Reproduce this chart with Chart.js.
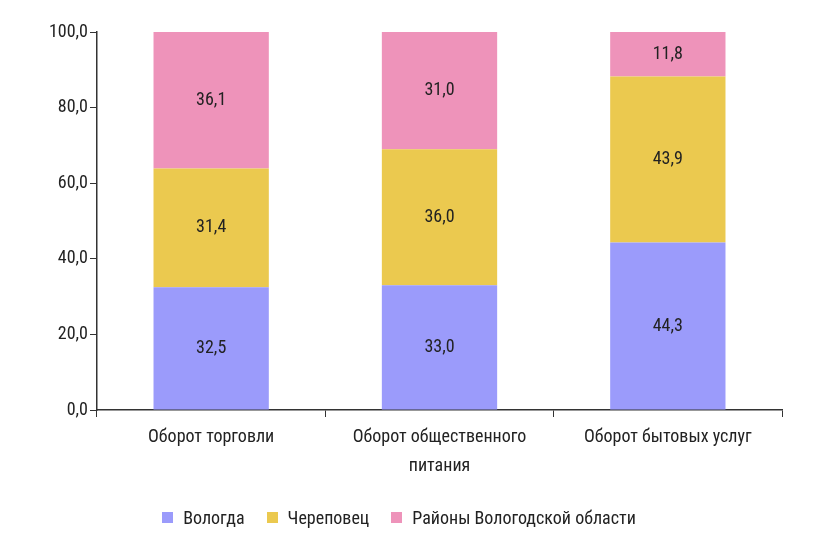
<!DOCTYPE html>
<html><head><meta charset="utf-8">
<script src="https://cdn.jsdelivr.net/npm/chart.js@4/dist/chart.umd.min.js"></script>
<style>
body{margin:0;background:#fff;}
#wrap{position:relative;width:820px;height:550px;}
#legend{position:absolute;top:507px;left:0;width:820px;text-align:center;font-family:"Liberation Sans Narrow","Roboto Condensed",Roboto,sans-serif;font-size:18px;color:#222;}
#legend span.b{display:inline-block;width:11px;height:11px;margin:0 10px 0 0;vertical-align:1px;}
#legend span.i{margin-right:22px;}
</style></head><body>
<div id="wrap"><canvas id="c" width="820" height="550"></canvas>
<div id="legend"></div></div>
<script>
const categories=[["Оборот торговли"],["Оборот общественного","питания"],["Оборот бытовых услуг"]];
const seriesNames=["Вологда","Череповец","Районы Вологодской области"];
const vologda=[32.5,33.0,44.3];
const cherepovets=[31.4,36.0,43.9];
const rayony=[36.1,31.0,11.8];
const yTicks=[0,20,40,60,80,100];
const colors=["#9b9bfb","#ebc94f","#ee93ba"];
const FONT='"Liberation Sans Narrow","Roboto Condensed",Roboto,sans-serif';
const fmt=v=>v.toFixed(1).replace('.',',');
const labelsPlugin={id:'lbl',afterDatasetsDraw(ch){const ctx=ch.ctx;ctx.save();ctx.font='18px '+FONT;ctx.fillStyle='#222';ctx.textAlign='center';ctx.textBaseline='middle';
ch.data.datasets.forEach((ds,i)=>{ch.getDatasetMeta(i).data.forEach((b,j)=>{const y=(b.y+b.base)/2;ctx.fillText(fmt(ds.data[j]),b.x,y);});});ctx.restore();}};
document.getElementById('legend').innerHTML=seriesNames.map((n,i)=>`<span class="b" style="background:${colors[i]}"></span><span class="i">${n}</span>`).join('');
new Chart(document.getElementById('c'),{type:'bar',
data:{labels:categories,datasets:[vologda,cherepovets,rayony].map((d,i)=>({label:seriesNames[i],data:d,backgroundColor:colors[i],barPercentage:0.505,categoryPercentage:1}))},
options:{responsive:false,animation:false,layout:{padding:{left:0,right:38,top:32,bottom:0}},
plugins:{legend:{display:false},tooltip:{enabled:false}},
scales:{x:{stacked:true,grid:{display:true,drawOnChartArea:false,drawTicks:true,tickLength:7,color:'#333',offset:true},border:{color:'#333',width:1.5},
ticks:{color:'#222',font:{family:FONT,size:18,lineHeight:1.6},padding:6},afterFit(s){s.height=140;}},
y:{stacked:true,min:0,max:100,afterBuildTicks(s){s.ticks=yTicks.map(v=>({value:v}));},grid:{drawOnChartArea:false,tickLength:7,color:'#333'},border:{color:'#333',width:1.5},
ticks:{color:'#222',font:{family:FONT,size:18},padding:2,callback:v=>fmt(v)},afterFit(s){s.width=97;}}}},
plugins:[labelsPlugin]});
</script></body></html>
